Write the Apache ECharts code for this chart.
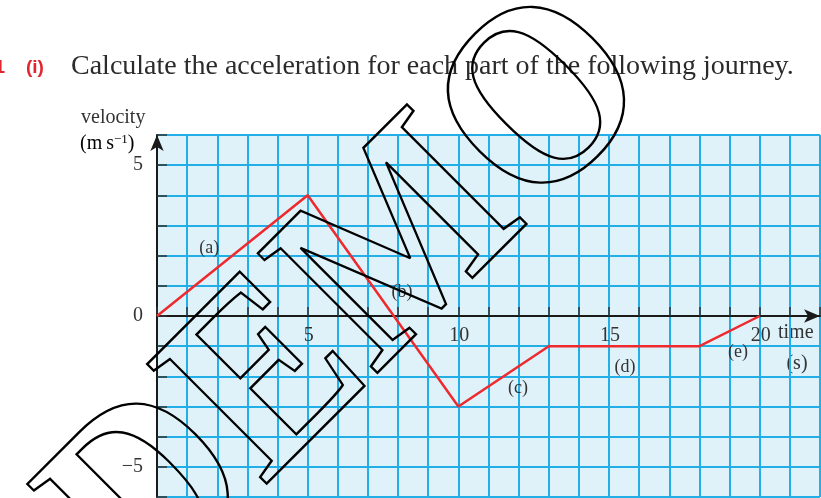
<!DOCTYPE html>
<html>
<head>
<meta charset="utf-8">
<script src="https://cdn.jsdelivr.net/npm/echarts@6/dist/echarts.min.js"></script>
<style>
  html, body { margin: 0; padding: 0; background: #fff; }
  #chart { width: 821px; height: 498px; }
</style>
</head>
<body>
<div id="chart"></div>
<script>
// Journey: time (s) against velocity (m s^-1)
const times = [0, 5, 10, 13, 18, 20];
const velocities = [0, 4, -3, -1, -1, 0];

// Part labels (a)–(e) and where they sit on the graph
const partNames = ['(a)', '(b)', '(c)', '(d)', '(e)'];
const partTimes = [1.73, 8.13, 11.98, 15.53, 19.28];
const partVelocities = [2.25, 0.8, -2.39, -1.69, -1.19];

// Labelled ticks
const xTickLabels = [5, 10, 15, 20];
const yTickLabels = [-5, 0, 5];

const serif = '"Liberation Serif", "DejaVu Serif", serif';
const textColor = '#333333';
const gridBlue = '#22afe8';

const chart = echarts.init(document.getElementById('chart'), null, { renderer: 'canvas' });

chart.setOption({
  animation: false,
  backgroundColor: '#ffffff',
  grid: {
    left: 157, top: 135, width: 663, height: 362,
    show: true, backgroundColor: '#dff2fa', borderWidth: 0,
    containLabel: false, outerBoundsMode: 'none'
  },
  xAxis: {
    type: 'value', min: 0, max: 22, interval: 1,
    axisLine: {
      onZero: true, symbol: ['none', 'arrow'], symbolSize: [10, 16],
      lineStyle: { color: '#1a1a1a', width: 2 }
    },
    axisTick: { show: true, inside: true, length: 9, lineStyle: { color: '#333', width: 1.5 } },
    axisLabel: { show: false },
    splitLine: { show: true, lineStyle: { color: gridBlue, width: 2 } }
  },
  yAxis: {
    type: 'value', min: -6, max: 6, interval: 1,
    axisLine: {
      onZero: false, symbol: ['none', 'arrow'], symbolSize: [10, 16],
      lineStyle: { color: '#1a1a1a', width: 2 }
    },
    axisTick: { show: true, inside: true, length: 10, lineStyle: { color: '#333', width: 1.5 } },
    axisLabel: {
      margin: 14, color: textColor, fontFamily: serif, fontSize: 20,
      formatter: v => yTickLabels.includes(v) ? (v < 0 ? '\u2212' + (-v) : String(v)) : ''
    },
    splitLine: { show: true, lineStyle: { color: gridBlue, width: 2 } }
  },
  series: [
    {
      type: 'line',
      data: times.map((t, i) => [t, velocities[i]]),
      symbol: 'none',
      lineStyle: { color: '#ee2a2e', width: 2.5 },
      z: 5
    },
    {
      // time-axis numbers, hung just below the zero line
      type: 'scatter',
      symbolSize: 0,
      itemStyle: { opacity: 1 },
      data: xTickLabels.map(v => ({ name: String(v), value: [v, 0] })),
      label: {
        show: true, position: 'inside', offset: [1, 20], formatter: p => p.name,
        color: textColor, fontFamily: serif, fontSize: 20,
        textBorderWidth: 0, textBorderColor: 'transparent'
      },
      z: 6
    },
    {
      type: 'scatter',
      symbolSize: 0,
      itemStyle: { opacity: 1 },
      data: partNames.map((n, i) => ({ name: n, value: [partTimes[i], partVelocities[i]] })),
      label: {
        show: true, position: 'inside', formatter: p => p.name,
        color: '#333333', fontFamily: serif, fontSize: 18,
        textBorderWidth: 0, textBorderColor: 'transparent'
      },
      z: 6
    }
  ],
  graphic: [
    { type: 'text', x: 5, y: 68, style: { text: '1', textAlign: 'right', textVerticalAlign: 'middle',
      font: 'bold 19px "Liberation Sans", sans-serif', fill: '#e0262f' } },
    { type: 'text', x: 26, y: 68, style: { text: '(i)', textAlign: 'left', textVerticalAlign: 'middle',
      font: 'bold 19px "Liberation Sans", sans-serif', fill: '#e0262f' } },
    { type: 'text', x: 71, y: 67, style: { text: 'Calculate the acceleration for each part of the following journey.',
      textAlign: 'left', textVerticalAlign: 'middle', font: '28px ' + serif, fill: '#2b2b2b' } },
    { type: 'text', x: 81, y: 118, style: { text: 'velocity', textAlign: 'left', textVerticalAlign: 'middle',
      font: '20px ' + serif, fill: textColor } },
    { type: 'text', x: 80, y: 144, style: {
      text: '{a|(m\u2009s}{s|\u22121}{a|)}', textAlign: 'left', textVerticalAlign: 'middle',
      rich: {
        a: { fontFamily: serif, fontSize: 20, color: textColor },
        s: { fontFamily: serif, fontSize: 13, color: textColor, verticalAlign: 'top', padding: [0, 0, 8, 0] }
      } } },
    { type: 'text', x: 778, y: 333, style: { text: 'time', textAlign: 'left', textVerticalAlign: 'middle',
      font: '20px ' + serif, fill: textColor } },
    { type: 'text', x: 797, y: 364, style: { text: '(s)', textAlign: 'center', textVerticalAlign: 'middle',
      font: '20px ' + serif, fill: textColor } },
    { type: 'text', x: 355, y: 301, rotation: Math.PI / 4, scaleX: 0.91, z: 100, silent: true,
      style: { text: 'DEMO', textAlign: 'center', textVerticalAlign: 'middle',
        font: 'bold 258px ' + serif, fill: 'none', stroke: '#000', lineWidth: 2.5 } }
  ]
});
</script>
</body>
</html>
